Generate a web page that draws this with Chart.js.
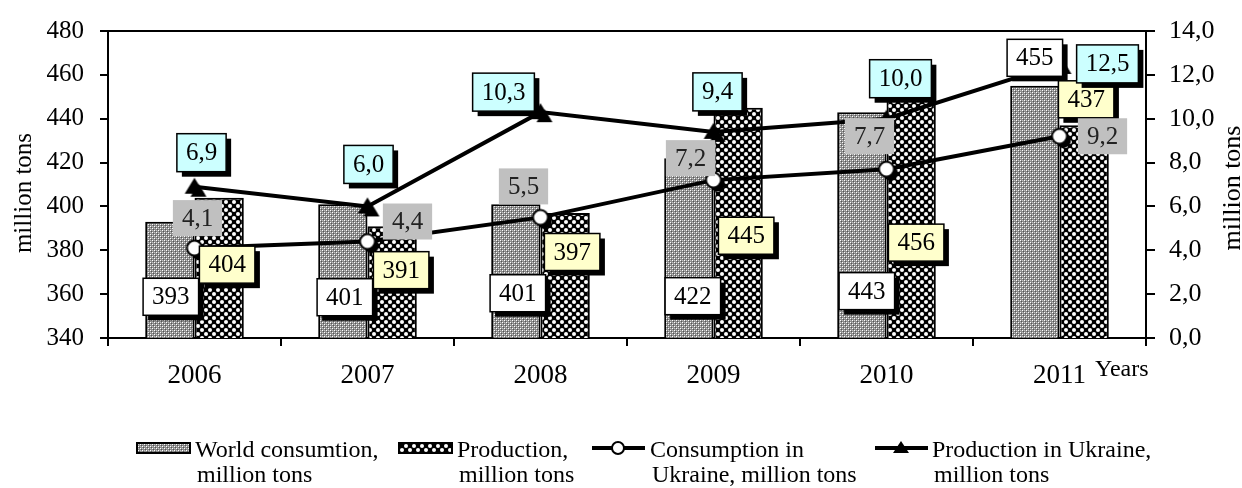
<!DOCTYPE html>
<html>
<head>
<meta charset="utf-8">
<script src="https://cdn.jsdelivr.net/npm/chart.js@4.4.1/dist/chart.umd.min.js"></script>
<style>
html, body { margin: 0; padding: 0; background: #fff; }
</style>
</head>
<body>
<canvas id="chart" width="1242" height="488"></canvas>
<script>
const years = ["2006", "2007", "2008", "2009", "2010", "2011"];
const worldConsumption = [393, 401, 401, 422, 443, 455];
const worldProduction = [404, 391, 397, 445, 456, 437];
const ukraineConsumption = [4.1, 4.4, 5.5, 7.2, 7.7, 9.2];
const ukraineProduction = [6.9, 6.0, 10.3, 9.4, 10.0, 12.5];

const legendNames = [
    ["World consumtion,", "million tons"],
    ["Production,", "million tons"],
    ["Consumption in", "Ukraine, million tons"],
    ["Production in Ukraine,", "million tons"]
];

const SERIF = '"Liberation Serif", "Times New Roman", serif';
const comma = v => v.toFixed(1).replace(".", ",");

// fill patterns
function makePattern(size, draw) {
    const c = document.createElement("canvas");
    c.width = size; c.height = size;
    draw(c.getContext("2d"));
    return document.createElement("canvas").getContext("2d").createPattern(c, "repeat");
}
const grayPattern = makePattern(4, g => {
    g.fillStyle = "#8a8a8a"; g.fillRect(0, 0, 4, 4);
    g.fillStyle = "#ffffff"; g.fillRect(0, 0, 1, 1); g.fillRect(2, 2, 1, 1);
    g.fillStyle = "#c4c4c4"; g.fillRect(2, 0, 1, 1); g.fillRect(0, 2, 1, 1);
    g.fillStyle = "#555"; g.fillRect(1, 1, 1, 1); g.fillRect(3, 3, 1, 1);
});
const checkPattern = makePattern(8, g => {
    g.fillStyle = "#000"; g.fillRect(0, 0, 8, 8);
    g.fillStyle = "#fff";
    [[2, 2], [6, 6]].forEach(p => { g.beginPath(); g.arc(p[0], p[1], 2.0, 0, Math.PI * 2); g.fill(); });
});

// point markers with a dark drop shadow
function marker(kind) {
    const c = document.createElement("canvas");
    c.width = 28; c.height = 28;
    const g = c.getContext("2d");
    const shape = (x, y) => {
        g.beginPath();
        if (kind === "circle") g.arc(x, y, 7.5, 0, Math.PI * 2);
        else { g.moveTo(x, y - 7); g.lineTo(x + 8, y + 6); g.lineTo(x - 8, y + 6); g.closePath(); }
    };
    g.fillStyle = "#000"; shape(18, 18); g.fill();
    shape(14, 14);
    g.fillStyle = kind === "circle" ? "#fff" : "#000"; g.fill();
    g.lineWidth = 2; g.strokeStyle = "#000"; g.stroke();
    return c;
}

// boxed value labels: offset of each box from its bar top / point
const labelSets = [
    { dataset: 0, fill: "#ffffff", border: true, h: 37, fmt: v => String(v),
      offsets: [[1, 75], [2, 93], [2, 89], [4, 138], [5, 179], [0, -28]] },
    { dataset: 1, fill: "#ffffcc", border: true, h: 37, fmt: v => String(v),
      offsets: [[8, 67], [9, 44], [7, 39], [8, 128], [5, 159], [2, -26]] },
    { dataset: 2, fill: "#c0c0c0", border: false, h: 36, fmt: comma,
      offsets: [[3, -30], [40, -20], [-17, -31], [-23, -22], [-17, -33], [43, 0]] },
    { dataset: 3, fill: "#ccffff", border: true, h: 38, fmt: comma,
      offsets: [[7, -34], [1, -42], [-37, -20], [4, -40], [14, -40], [48, 0]] }
];

const boxLabels = {
    id: "boxLabels",
    afterDatasetsDraw(chart) {
        const ctx = chart.ctx;
        ctx.save();
        ctx.font = "25px " + SERIF;
        ctx.textAlign = "center";
        ctx.textBaseline = "middle";
        labelSets.forEach(set => {
            const meta = chart.getDatasetMeta(set.dataset);
            const values = chart.data.datasets[set.dataset].data;
            meta.data.forEach((el, i) => {
                const text = set.fmt(values[i]);
                const w = ctx.measureText(text).width + 18;
                const cx = el.x + set.offsets[i][0];
                const cy = el.y + set.offsets[i][1];
                const x = cx - w / 2, y = cy - set.h / 2;
                if (set.border) {
                    ctx.fillStyle = "#000";
                    ctx.fillRect(x + 5, y + 5, w, set.h);
                }
                ctx.fillStyle = set.fill;
                ctx.fillRect(x, y, w, set.h);
                if (set.border) {
                    ctx.strokeStyle = "#000";
                    ctx.lineWidth = 1.5;
                    ctx.strokeRect(x, y, w, set.h);
                }
                ctx.fillStyle = set.border ? "#000" : "#222";
                ctx.fillText(text, cx, cy + 1);
            });
        });
        ctx.restore();
    }
};

const extras = {
    id: "extras",
    afterDraw(chart) {
        const ctx = chart.ctx;
        const a = chart.chartArea;
        ctx.save();
        // top frame line
        ctx.strokeStyle = "#000";
        ctx.lineWidth = 2;
        ctx.beginPath(); ctx.moveTo(a.left, a.top); ctx.lineTo(a.right, a.top); ctx.stroke();

        ctx.fillStyle = "#000";
        ctx.textBaseline = "middle";
        // axis titles
        ctx.font = "25px " + SERIF;
        ctx.textAlign = "center";
        ctx.save(); ctx.translate(24, 193); ctx.rotate(-Math.PI / 2); ctx.fillText("million tons", 0, 0); ctx.restore();
        ctx.font = "26px " + SERIF;
        ctx.save(); ctx.translate(1233, 188); ctx.rotate(-Math.PI / 2); ctx.fillText("million tons", 0, 0); ctx.restore();
        ctx.font = "24px " + SERIF;
        ctx.textAlign = "left";
        ctx.fillText("Years", 1095, 370);

        // legend
        const iconX = [137, 399, 592, 875];
        const textX = [195, 457, 650, 932];
        const iy = 448;
        [grayPattern, checkPattern].forEach((p, k) => {
            ctx.fillStyle = p;
            ctx.fillRect(iconX[k], iy - 5, 53, 10);
            ctx.strokeStyle = "#000"; ctx.lineWidth = 2;
            ctx.strokeRect(iconX[k], iy - 5, 53, 10);
        });
        [2, 3].forEach(k => {
            ctx.strokeStyle = "#000"; ctx.lineWidth = 4;
            ctx.beginPath(); ctx.moveTo(iconX[k], iy); ctx.lineTo(iconX[k] + 53, iy); ctx.stroke();
            const mx = iconX[k] + 26;
            ctx.lineWidth = 2;
            ctx.beginPath();
            if (k === 2) {
                ctx.arc(mx, iy, 6, 0, Math.PI * 2);
                ctx.fillStyle = "#fff"; ctx.fill(); ctx.stroke();
            } else {
                ctx.moveTo(mx, iy - 7); ctx.lineTo(mx + 8, iy + 5); ctx.lineTo(mx - 8, iy + 5); ctx.closePath();
                ctx.fillStyle = "#000"; ctx.fill();
            }
        });
        ctx.fillStyle = "#000";
        ctx.font = "24px " + SERIF;
        ctx.textBaseline = "alphabetic";
        legendNames.forEach((lines, k) => {
            ctx.fillText(lines[0], textX[k], 457);
            ctx.fillText(lines[1], textX[k] + 2, 482);
        });
        ctx.restore();
    }
};

const axisGrid = len => ({
    drawOnChartArea: false,
    drawTicks: true,
    tickLength: len,
    color: "#000",
    lineWidth: 2
});
const axisBorder = { display: true, color: "#000", width: 2 };

new Chart(document.getElementById("chart").getContext("2d"), {
    data: {
        labels: years,
        datasets: [
            {
                type: "bar", label: legendNames[0].join(" "), data: worldConsumption, yAxisID: "y",
                backgroundColor: grayPattern, borderColor: "#000", borderWidth: 2,
                categoryPercentage: 0.57, barPercentage: 1, order: 2
            },
            {
                type: "bar", label: legendNames[1].join(" "), data: worldProduction, yAxisID: "y",
                backgroundColor: checkPattern, borderColor: "#000", borderWidth: 2,
                categoryPercentage: 0.57, barPercentage: 1, order: 2
            },
            {
                type: "line", label: legendNames[2].join(" "), data: ukraineConsumption, yAxisID: "y2",
                borderColor: "#000", borderWidth: 4, tension: 0,
                pointStyle: marker("circle"), pointRadius: 8, order: 1
            },
            {
                type: "line", label: legendNames[3].join(" "), data: ukraineProduction, yAxisID: "y2",
                borderColor: "#000", borderWidth: 4, tension: 0,
                pointStyle: marker("triangle"), pointRadius: 8, order: 1
            }
        ]
    },
    options: {
        responsive: false,
        animation: false,
        layout: { padding: { top: 25, left: 0, right: 0, bottom: 0 } },
        plugins: { legend: { display: false }, tooltip: { enabled: false } },
        scales: {
            x: {
                type: "category",
                offset: true,
                grid: Object.assign(axisGrid(8), { offset: true }),
                border: axisBorder,
                ticks: { color: "#000", font: { family: SERIF, size: 27 }, padding: 14, maxRotation: 0 },
                afterFit(s) { s.height = 150; }
            },
            y: {
                position: "left",
                min: 340, max: 480,
                grid: axisGrid(8),
                border: axisBorder,
                ticks: { stepSize: 20, color: "#000", font: { family: SERIF, size: 25 }, padding: 16 },
                afterFit(s) { s.width = 108; }
            },
            y2: {
                position: "right",
                min: 0, max: 14,
                grid: axisGrid(9),
                border: axisBorder,
                ticks: { stepSize: 2, color: "#000", font: { family: SERIF, size: 26 }, padding: 14, callback: v => comma(v) },
                afterFit(s) { s.width = 96; }
            }
        }
    },
    plugins: [boxLabels, extras]
});
</script>
</body>
</html>
